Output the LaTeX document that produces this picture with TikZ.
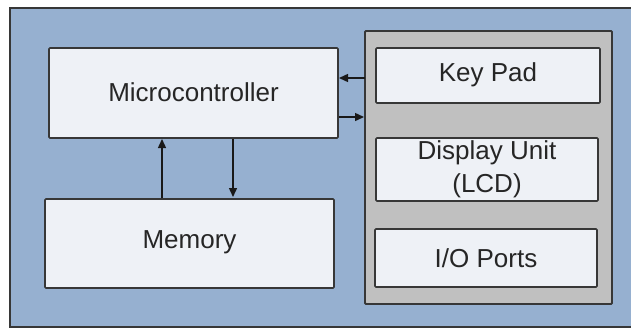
\documentclass[tikz,border=0pt]{standalone}
\usepackage{fontspec}
\setmainfont{Liberation Sans}
\usetikzlibrary{arrows.meta}
\definecolor{bgblue}{RGB}{150,176,208}
\definecolor{boxfill}{RGB}{238,241,246}
\definecolor{panelgray}{RGB}{192,192,192}
\definecolor{edge}{RGB}{55,55,55}
\tikzset{
  x=1pt, y=-1pt,
  blockbox/.style={draw=edge, line width=1.6pt, fill=boxfill, rounded corners=1pt},
  blocklabel/.style={font=\fontsize{26}{33}\selectfont, text=black!85, align=center},
  link/.style={draw=black!90, line width=1.4pt, -{Triangle[length=9pt,width=8pt]}}
}
\begin{document}
\begin{tikzpicture}
\useasboundingbox (0,0) rectangle (631,330);
% outer frame
\fill[white] (0,0) rectangle (631,330);
\draw[edge, line width=1.8pt, fill=bgblue] (10,8) rectangle (640,327);
% peripheral panel
\draw[edge, line width=1.8pt, fill=panelgray, rounded corners=1pt] (365,31) rectangle (612,304);
% blocks
\draw[blockbox] (49,48) rectangle (338,138);
\node[blocklabel] (mcu) at (193.5,92) {Microcontroller};
\draw[blockbox] (45,199) rectangle (334,288);
\node[blocklabel] (mem) at (189.5,242) {Memory};
\draw[blockbox] (376,48) rectangle (600,103);
\node[blocklabel] (key) at (488,75) {Key Pad};
\draw[blockbox] (376,138) rectangle (598,201);
\node[blocklabel] (lcd) at (487,169) {Display Unit\\(LCD)};
\draw[blockbox] (375,229) rectangle (597,287);
\node[blocklabel] (io) at (486,258) {I/O Ports};
% connector end points on block edges
\coordinate (mcuR1) at (339,78);
\coordinate (mcuR2) at (339,117);
\coordinate (panL1) at (365,78);
\coordinate (panL2) at (364,117);
\coordinate (mcuB1) at (162,139);
\coordinate (mcuB2) at (233,139);
\coordinate (memT1) at (162,198);
\coordinate (memT2) at (233,197);
% connectors
\draw[link] (panL1) -- (mcuR1);
\draw[link] (mcuR2) -- (panL2);
\draw[link] (memT1) -- (mcuB1);
\draw[link] (mcuB2) -- (memT2);
\end{tikzpicture}
\end{document}
